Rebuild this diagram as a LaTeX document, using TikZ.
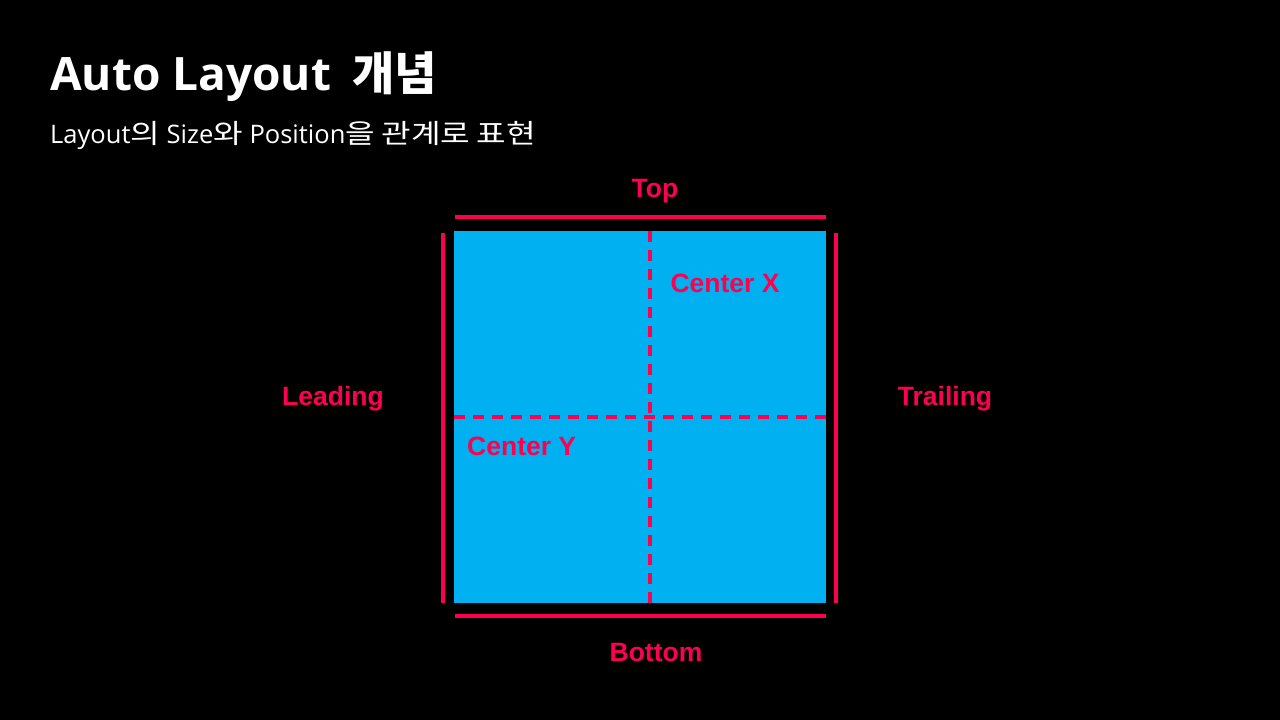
\documentclass[tikz,border=0pt]{standalone}
\usepackage{fontspec}
\setmainfont{Liberation Sans}
\newfontfamily\krfont{Noto Sans CJK KR}
\newfontfamily\krwidefont[Scale=1.05,FakeStretch=1.2]{Noto Sans CJK KR}
\newfontfamily\latfont{Open Sans}
\newcommand\kr[1]{{\krfont #1}}
\newcommand\krw[1]{{\krwidefont #1}}
\definecolor{boxblue}{HTML}{00B0F0}
\definecolor{guidered}{HTML}{FF0050}

\begin{document}
\begin{tikzpicture}[x=1pt,y=-1pt,
			edge line/.style={guidered,line width=4pt},
			guide line/.style={guidered,line width=3.5pt,dash pattern=on 11pt off 8pt},
			edge label/.style={text=guidered,font=\fontsize{26.5}{30}\selectfont\bfseries,inner sep=0pt,anchor=base},
			title node/.style={text=white,anchor=base west,inner sep=0pt}
			]
			
			\def \xl {454};
			\def \xr {826};
			\def \yt {231};
			\def \yb {603};
			
			\fill[black] (0,0) rectangle (1280,720);
			\fill[boxblue] (\xl,\yt) coordinate (nw) rectangle (\xr,\yb) coordinate (se);
			
			% title
			\node[title node,font=\latfont\bfseries\fontsize{46}{50}\selectfont] (title) at (50,90) {Auto Layout\hspace{9pt} \kr{개념}};
			\node[title node,font=\latfont\fontsize{25.5}{30}\selectfont] (subtitle) at (50,143) {Layout\krw{의} Size\krw{와} Position\krw{을} \krw{관계로} \krw{표현}};
			
			% edges
			\coordinate (t1) at (455,217);
			\coordinate (t2) at (826,217);
			\coordinate (b1) at (455,616);
			\coordinate (b2) at (826,616);
			\coordinate (l1) at (443,233);
			\coordinate (l2) at (443,603);
			\coordinate (r1) at (836,233);
			\coordinate (r2) at (836,603);
			\draw[edge line] (t1) -- (t2);
			\draw[edge line] (b1) -- (b2);
			\draw[edge line] (l1) -- (l2);
			\draw[edge line] (r1) -- (r2);
			
			% guides
			\coordinate (cx1) at (650,\yt);
			\coordinate (cx2) at (650,\yb);
			\coordinate (cy1) at (\xl,417);
			\coordinate (cy2) at (\xr,417);
			\draw[guide line] (cx1) -- (cx2);
			\draw[guide line] (cy1) -- (cy2);
			
			\node[edge label] (top) at (655,197) {Top};
			\node[edge label] (bottom) at (656,661) {Bottom};
			\node[edge label] (leading) at (333,405) {Leading};
			\node[edge label] (trailing) at (945,405) {Trailing};
			\node[edge label] (centerx) at (725,292) {Center X};
			\node[edge label,anchor=base west] (centery) at (467,455) {Center Y};
			\end{tikzpicture}
\end{document}
